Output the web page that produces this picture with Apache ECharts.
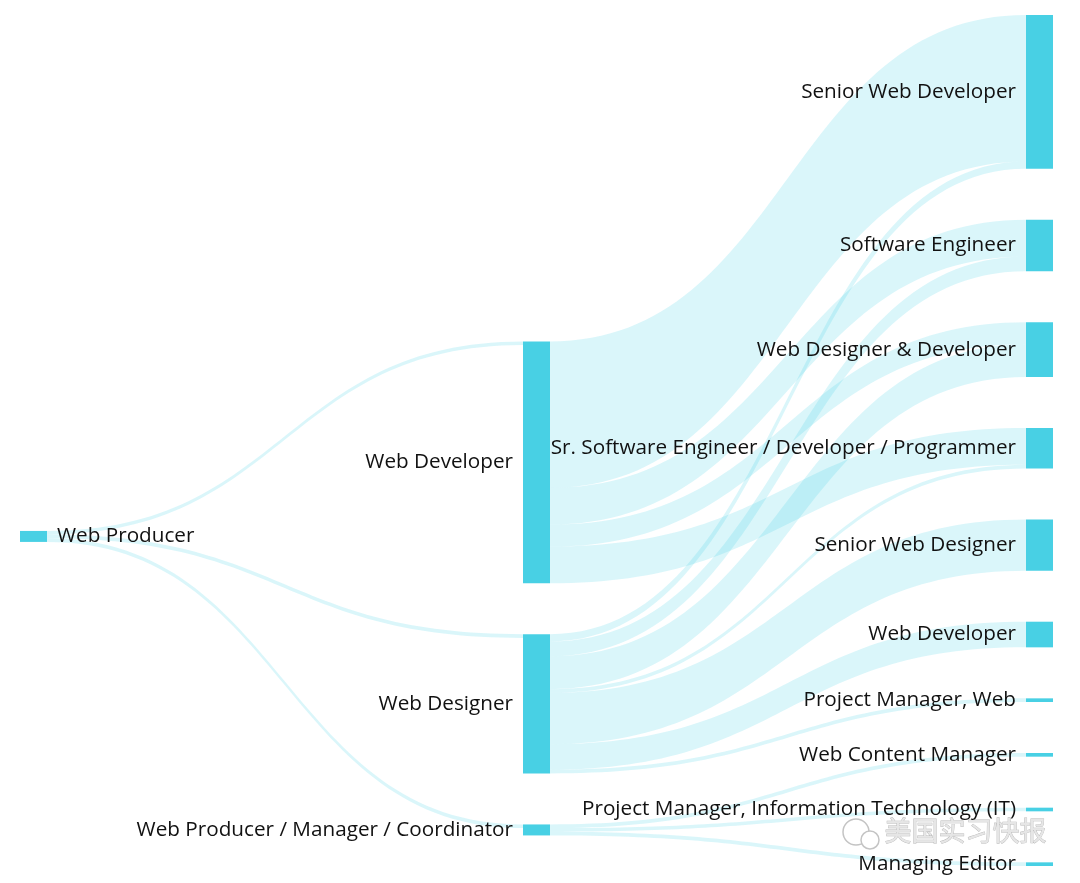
<!DOCTYPE html>
<html>
<head>
<meta charset="utf-8">
<title>Web Producer career paths</title>
<script src="https://cdn.jsdelivr.net/npm/echarts@6/dist/echarts.min.js"></script>
<style>
  html, body { margin: 0; padding: 0; background: #fff; }
  #chart { width: 1080px; height: 883px; }
</style>
</head>
<body>
<div id="chart"></div>
<script>
// node labels (column 1, column 2, column 3)
const nodeNames = [
  "Web Producer",
  "Web Developer",
  "Web Designer",
  "Web Producer / Manager / Coordinator",
  "Senior Web Developer",
  "Software Engineer",
  "Web Designer & Developer",
  "Sr. Software Engineer / Developer / Programmer",
  "Senior Web Designer",
  "Web Developer",
  "Project Manager, Web",
  "Web Content Manager",
  "Project Manager, Information Technology (IT)",
  "Managing Editor"
];

// flows, by node index
const linkSource = [0, 0, 0, 1, 1, 1, 1, 2, 2, 2, 2, 2, 2, 2, 3, 3, 3];
const linkTarget = [1, 2, 3, 4, 5, 6, 7, 4, 5, 6, 7, 8, 9, 10, 11, 12, 13];
const linkValue  = [1, 1, 1, 40, 10, 6, 10, 2, 4, 9, 1, 14, 7, 1, 1, 1, 1];

const chart = echarts.init(document.getElementById("chart"));

const nodes = nodeNames.map((name, i) => ({
  name: "n" + i,
  label: { position: i === 0 ? "right" : "left" }
}));

const links = linkSource.map((s, i) => ({
  source: "n" + s,
  target: "n" + linkTarget[i],
  value: linkValue[i]
}));

const option = {
  backgroundColor: "#fff",
  animation: false,
  series: [
    {
      type: "sankey",
      left: 20,
      right: 27,
      top: 15,
      bottom: 17,
      nodeWidth: 27,
      nodeGap: 51,
      draggable: false,
      emphasis: { disabled: true },
      data: nodes,
      links: links,
      itemStyle: {
        color: "#48d0e4",
        borderWidth: 0
      },
      lineStyle: {
        color: "#48d0e4",
        opacity: 0.2,
        curveness: 0.5
      },
      label: {
        color: "#111",
        fontFamily: "Open Sans",
        fontSize: 20.7,
        distance: 10,
        formatter: (p) => nodeNames[p.dataIndex]
      }
    }
  ],
  // watermark in the lower right corner
  graphic: [
    {
      type: "circle",
      shape: { cx: 856, cy: 832, r: 13 },
      style: { fill: "none", stroke: "#c4c4c4", lineWidth: 1.5 }
    },
    {
      type: "circle",
      shape: { cx: 870, cy: 840, r: 9 },
      style: { fill: "#fff", stroke: "#c4c4c4", lineWidth: 1.5 }
    },
    {
      type: "text",
      left: 884,
      top: 817,
      style: {
        text: "美国实习快报",
        font: "27px 'Noto Sans CJK SC'",
        fill: "#e6e6e6",
        stroke: "#b8b8b8",
        lineWidth: 0.8
      }
    }
  ]
};

chart.setOption(option);
</script>
</body>
</html>
